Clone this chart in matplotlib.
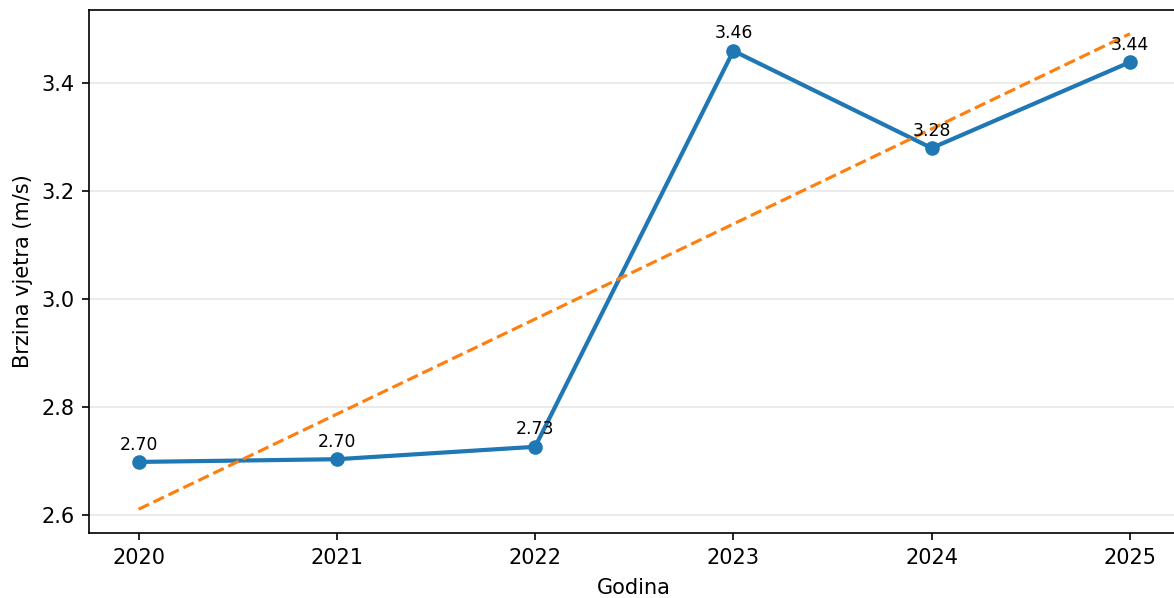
import numpy as np
import matplotlib
matplotlib.use("Agg")
import matplotlib.pyplot as plt

# yearly mean wind speed
years = [2020, 2021, 2022, 2023, 2024, 2025]
speed = [2.698, 2.703, 2.726, 3.459, 3.279, 3.438]

fig = plt.figure(figsize=(1174 / 150, 598 / 150), dpi=150)
ax = fig.add_axes([89 / 1174, 1 - 533 / 598, (1179.5 - 89) / 1174, (533 - 10) / 598])

ax.plot(years, speed, marker="o", color="#1f77b4", linewidth=2, markersize=6)

# linear trend
k, n = np.polyfit(years, speed, 1)
trend = np.polyval([k, n], years)
ax.plot(years, trend, "--", color="#ff7f0e", linewidth=1.5)

for x, y in zip(years, speed):
    ax.annotate(f"{y:.2f}", (x, y), textcoords="offset points", xytext=(0, 4),
                ha="center", va="bottom", fontsize=8.3)

ax.set_xticks(years)
ax.set_xlabel("Godina", labelpad=5)
ax.set_ylabel("Brzina vjetra (m/s)")
ax.grid(axis="y", alpha=0.3)

fig.savefig("out.png", dpi=150)
